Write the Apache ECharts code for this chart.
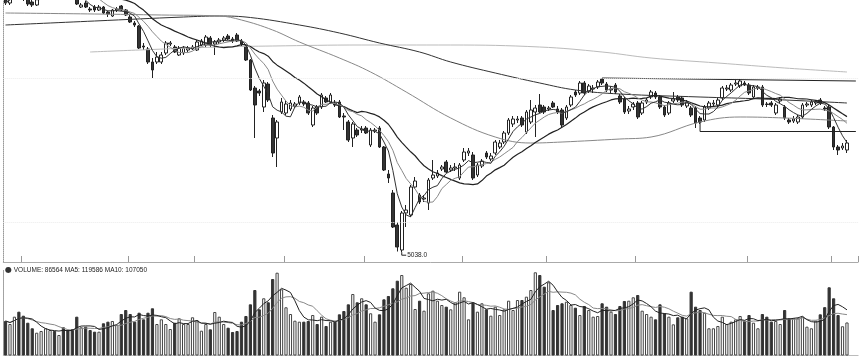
<!DOCTYPE html>
<html><head><meta charset="utf-8">
<script src="https://cdn.jsdelivr.net/npm/echarts@6/dist/echarts.min.js"></script>
<style>html,body{margin:0;padding:0;background:#fff}#c{width:859px;height:359px}</style>
</head><body><div id="c"></div>
<script>
// candles: [open, close, low, high]
const ohlc = [
[7580,7530,7510,7620],[7530,7600,7510,7640],[7600,7660,7590,7700],[7660,7620,7590,7700],[7620,7580,7550,7660],[7590,7520,7500,7620],[7540,7510,7490,7580],[7510,7580,7500,7610],[7580,7640,7560,7680],[7640,7700,7620,7740],
[7700,7760,7680,7800],[7760,7720,7680,7810],[7720,7780,7700,7840],[7780,7740,7700,7820],[7740,7660,7640,7780],[7660,7600,7580,7680],[7600,7520,7510,7620],[7490,7510,7480,7530],[7530,7490,7480,7550],[7470,7460,7440,7490],
[7490,7460,7440,7510],[7460,7490,7450,7510],[7490,7430,7420,7500],[7440,7420,7390,7450],[7400,7460,7390,7470],[7460,7470,7440,7490],[7500,7460,7450,7510],[7460,7410,7400,7470],[7390,7340,7330,7410],[7330,7310,7290,7350],
[7300,7080,7070,7310],[7100,7090,7060,7130],[7070,6940,6920,7090],[6940,6860,6780,6980],[6940,6990,6920,7040],[6940,7010,6920,7040],[7030,7130,7010,7150],[7120,7130,7100,7150],[7090,7040,7030,7110],[7010,7080,7000,7100],
[7030,7080,7010,7100],[7060,7080,7040,7100],[7070,7090,7060,7110],[7060,7140,7050,7160],[7110,7150,7100,7170],[7110,7190,7090,7210],[7180,7110,7090,7200],[7120,7140,7010,7160],[7140,7160,7120,7180],[7160,7180,7140,7200],
[7200,7170,7160,7220],[7170,7150,7130,7190],[7210,7150,7140,7230],[7150,7120,7100,7170],[7100,6960,6950,7120],[6960,6660,6650,6970],[6680,6510,6180,6700],[6650,6630,6600,6670],[6490,6730,6440,6760],[6720,6560,6540,6740],
[6380,6030,5990,6410],[6180,6340,5890,6360],[6440,6540,6420,6580],[6430,6520,6410,6560],[6470,6530,6450,6560],[6500,6520,6480,6540],[6530,6590,6510,6610],[6540,6520,6500,6560],[6530,6430,6410,6550],[6310,6480,6290,6500],
[6490,6430,6410,6510],[6490,6610,6470,6630],[6580,6540,6530,6600],[6540,6610,6520,6630],[6530,6510,6490,6560],[6540,6390,6380,6560],[6400,6390,6260,6430],[6340,6160,6140,6360],[6180,6320,6090,6340],[6260,6210,6190,6280],
[6260,6270,6230,6300],[6280,6230,6220,6300],[6110,6260,6090,6280],[6250,6260,6230,6280],[6280,6090,6080,6300],[6090,5860,5850,6100],[5820,5780,5730,5860],[5630,5290,5280,5660],[5310,5090,5045,5340],[5060,5430,5038,5450],
[5430,5460,5290,5510],[5410,5690,5390,5710],[5690,5750,5670,5790],[5610,5540,5520,5630],[5570,5580,5540,5610],[5530,5760,5460,5780],[5780,5810,5760,5960],[5800,5830,5780,5860],[5870,5890,5850,5910],[5940,5840,5830,5960],
[5860,5880,5840,5910],[5880,5890,5850,5930],[5780,5910,5760,5930],[5960,6040,5940,6080],[6030,6050,6000,6080],[6010,5780,5760,6040],[5810,5910,5790,5930],[5900,5950,5880,5970],[6030,5990,5970,6050],[5970,6000,5950,6030],
[6030,6140,6010,6160],[6090,6130,6070,6160],[6140,6230,6120,6250],[6230,6360,6210,6380],[6320,6370,6290,6400],[6360,6370,6330,6400],[6380,6310,6290,6400],[6240,6440,6220,6460],[6340,6460,6320,6560],[6440,6480,6190,6510],
[6510,6440,6430,6620],[6490,6440,6420,6510],[6470,6480,6450,6500],[6530,6490,6480,6550],[6470,6440,6420,6500],[6460,6310,6290,6480],[6380,6490,6360,6510],[6510,6590,6490,6610],[6640,6610,6590,6660],[6630,6730,6610,6750],
[6730,6630,6610,6750],[6650,6700,6630,6720],[6670,6680,6630,6710],[6690,6740,6670,6760],[6770,6730,6710,6780],[6720,6660,6640,6740],[6660,6670,6630,6700],[6710,6640,6620,6730],[6600,6540,6520,6620],[6570,6440,6420,6590],
[6450,6470,6420,6500],[6490,6520,6460,6540],[6530,6390,6370,6550],[6430,6530,6410,6550],[6540,6560,6520,6580],[6590,6640,6570,6660],[6630,6590,6570,6650],[6590,6490,6470,6610],[6490,6410,6390,6510],[6430,6530,6410,6550],
[6550,6570,6530,6640],[6590,6560,6540,6610],[6580,6510,6490,6600],[6500,6530,6480,6560],[6480,6410,6390,6500],[6480,6330,6280,6500],[6380,6340,6320,6400],[6360,6490,6340,6510],[6480,6530,6460,6550],[6520,6530,6500,6560],
[6510,6560,6490,6580],[6580,6680,6560,6700],[6670,6680,6650,6710],[6660,6710,6640,6730],[6720,6730,6700,6760],[6700,6750,6680,6770],[6730,6710,6700,6750],[6710,6630,6610,6730],[6590,6690,6570,6710],[6680,6690,6660,6710],
[6690,6510,6490,6710],[6520,6515,6490,6540],[6530,6510,6490,6550],[6430,6510,6410,6530],[6550,6570,6530,6590],[6490,6380,6360,6510],[6360,6340,6320,6380],[6350,6370,6330,6400],[6340,6390,6320,6410],[6390,6510,6370,6530],
[6510,6520,6490,6540],[6510,6540,6490,6560],[6530,6540,6510,6560],[6560,6530,6510,6580],[6480,6470,6450,6500],[6490,6290,6270,6510],[6290,6090,6060,6300],[6090,6060,6010,6110],[6080,6100,6060,6130],[6060,6130,6030,6160]
];
const volumes = [
90400,82500,101700,114800,104300,85900,71300,59700,64200,71300,
66800,64200,53700,73900,66800,69400,101700,73900,75500,66800,
62400,62400,84400,88600,90400,79900,108700,119200,108700,88600,
112100,94800,112100,123700,82500,94800,82500,69400,85900,97500,
82500,82500,100100,93000,65000,82500,68600,114000,101700,82500,
72800,61600,64200,88600,103500,134100,171600,121000,149900,139400,
200400,216900,173400,126300,108700,91200,88600,88600,90400,106100,
82500,101700,77300,88600,88600,107900,116600,134100,161100,139400,
149900,134100,110600,88600,107900,147200,155900,176100,196000,210900,
177600,187300,121800,143600,117400,163000,169800,143600,132300,127900,
121000,139400,167200,152500,94800,139400,114800,136800,121000,104300,
127900,106100,121000,143600,119200,145400,145400,154100,171600,218000,
210900,180300,191800,119200,132300,136800,141000,132300,125200,106100,
129700,119200,101700,103500,136800,127900,114800,108700,129700,142800,
143600,152500,158500,117400,108700,101700,94800,134100,110600,101700,
81700,100100,101700,97500,167200,127900,119200,112100,71300,71300,
77300,101700,82500,88600,94800,103500,91200,106100,85900,71300,
108700,101700,88600,90400,82500,119200,97500,97500,97500,101700,
75500,71300,91200,107900,126670,178700,149900,106100,76666,86564
];
// long moving averages: [candle index, value]
const ma60Points = [[0,7430],[20,7420],[35,7410],[48,7400],[53,7360],[60,7260],[66,7140],[75,6980],[82,6840],[90,6640],[100,6380],[110,6190],[118,6130],[125,6140],[138,6170],[145,6190],[156,6340],[165,6390],[175,6380],[189,6350]];
const ma120Points = [[0,7310],[20,7350],[40,7390],[48,7400],[55,7385],[66,7310],[75,7230],[84,7130],[93,7040],[100,6940],[110,6830],[120,6730],[128,6660],[138,6620],[156,6590],[170,6570],[189,6530]];
const ma250Points = [[19,7040],[30,7060],[48,7090],[60,7100],[80,7110],[100,7110],[120,7090],[134,7040],[145,6980],[160,6930],[175,6880],[189,6840]];
const boxTop = [[134,6740],[134,6780],[191,6750]];
const boxBottom = [[156,6340],[156,6245],[191,6245]];
const gridLevels = [6780, 5340];
const monthStarts = [4, 28, 43, 63, 81, 103, 122, 142, 167, 186];
const extraSlots = 2;
const categories = Array.from({length: ohlc.length + extraSlots}, (_, i) => String(i));

function movingAvg(vals, n) {
  return vals.map((_, i) => {
    const s = Math.max(0, i - n + 1);
    let sum = 0;
    for (let k = s; k <= i; k++) sum += vals[k];
    return +(sum / (i - s + 1)).toFixed(2);
  });
}
const closes = ohlc.map(d => d[1]);
const ma5 = movingAvg(closes, 5), ma10 = movingAvg(closes, 10), ma20 = movingAvg(closes, 20);
const vma5 = movingAvg(volumes, 5), vma10 = movingAvg(volumes, 10);
const n = volumes.length;
const lastVol = volumes[n - 1];
const lastVma5 = Math.round(volumes.slice(n - 5).reduce((a, b) => a + b, 0) / 5);
const lastVma10 = Math.round(volumes.slice(n - 10).reduce((a, b) => a + b, 0) / 10);
let lowIdx = 0;
ohlc.forEach((d, i) => { if (d[2] < ohlc[lowIdx][2]) lowIdx = i; });
const lowVal = ohlc[lowIdx][2];
const lowLeader = [[lowIdx, lowVal], [lowIdx, lowVal - 30], [lowIdx + 1, lowVal - 30]];

const volData = volumes.map((v, i) => {
  const up = ohlc[i][1] >= ohlc[i][0];
  return { value: v, itemStyle: up ? { color: '#fff', borderColor: '#444', borderWidth: 1 } : { color: '#333', borderColor: '#333', borderWidth: 1 } };
});

const FONT = 'Liberation Sans';
const chart = echarts.init(document.getElementById('c'), null, { renderer: 'canvas' });
const lineBase = { type: 'line', showSymbol: false, symbol: 'none', silent: true, animation: false };
chart.setOption({
  animation: false,
  backgroundColor: '#fff',
  title: {
    left: 0, top: 261,
    text: '{d|●} VOLUME: ' + lastVol + ' MA5: ' + lastVma5 + ' MA10: ' + lastVma10,
    textStyle: { fontFamily: FONT, fontSize: 6.5, color: '#222', fontWeight: 'normal',
      rich: { d: { fontSize: 8, color: '#333', fontFamily: 'DejaVu Sans' } } }
  },
  grid: [
    { left: 3.3, right: 0.9, top: 0, height: 262 },
    { left: 3.3, right: 0.9, top: 270, height: 85.5 }
  ],
  xAxis: [
    { type: 'category', gridIndex: 0, data: categories, boundaryGap: true,
      axisLine: { show: true, lineStyle: { color: '#aaa', width: 1 } },
      axisTick: { show: true, inside: true, length: 6, interval: (i) => monthStarts.includes(i), lineStyle: { color: '#999' } },
      axisLabel: { show: false }, splitLine: { show: false } },
    { type: 'category', gridIndex: 1, data: categories, boundaryGap: true,
      axisLine: { show: true, lineStyle: { color: '#bbb', width: 1 } },
      axisTick: { show: false }, axisLabel: { show: false }, splitLine: { show: false } }
  ],
  yAxis: [
    { type: 'value', gridIndex: 0, min: 4940, max: 7560, scale: true,
      axisLine: { show: true, lineStyle: { color: '#999', type: 'dotted' } },
      axisTick: { show: false }, axisLabel: { show: false }, splitLine: { show: false } },
    { type: 'value', gridIndex: 1, min: 0, max: 224000,
      axisLine: { show: true, lineStyle: { color: '#999', type: 'dotted' } },
      axisTick: { show: false }, axisLabel: { show: false }, splitLine: { show: false } }
  ],
  series: [
    Object.assign({}, lineBase, { data: ma250Points, smooth: 0.4, lineStyle: { color: '#bbb', width: 1 } }),
    Object.assign({}, lineBase, { data: ma120Points, smooth: 0.4, lineStyle: { color: '#333', width: 1 } }),
    Object.assign({}, lineBase, { data: ma60Points, smooth: 0.4, lineStyle: { color: '#888', width: 1 } }),
    Object.assign({}, lineBase, { data: ma20, lineStyle: { color: '#222', width: 1.2 } }),
    Object.assign({}, lineBase, { data: ma10, lineStyle: { color: '#888', width: 1 } }),
    Object.assign({}, lineBase, { data: ma5, lineStyle: { color: '#333', width: 1 } }),
    {
      type: 'candlestick', data: ohlc, barWidth: 3.2, silent: true, animation: false,
      itemStyle: { color: '#fff', color0: '#333', borderColor: '#222', borderColor0: '#222', borderWidth: 1 },
      markLine: { symbol: 'none', silent: true, animation: false, label: { show: false },
        lineStyle: { color: '#ebebeb', type: 'dotted', width: 1 },
        data: gridLevels.map(v => ({ yAxis: v })) }
    },
    Object.assign({}, lineBase, { data: boxTop, lineStyle: { color: '#222', width: 1 } }),
    Object.assign({}, lineBase, { data: boxBottom, lineStyle: { color: '#222', width: 1 } }),
    Object.assign({}, lineBase, { data: lowLeader, lineStyle: { color: '#222', width: 1 },
      markPoint: { symbol: 'circle', symbolSize: 0, silent: true, animation: false,
        label: { show: true, position: 'right', distance: 1, fontFamily: FONT, fontSize: 6.5, color: '#222', formatter: lowVal.toFixed(1) },
        data: [{ coord: lowLeader[2], value: lowVal }] } }),
    { type: 'bar', xAxisIndex: 1, yAxisIndex: 1, data: volData, barWidth: 3.2, silent: true, animation: false },
    Object.assign({}, lineBase, { xAxisIndex: 1, yAxisIndex: 1, data: vma10, lineStyle: { color: '#888', width: 1 } }),
    Object.assign({}, lineBase, { xAxisIndex: 1, yAxisIndex: 1, data: vma5, lineStyle: { color: '#222', width: 1 } })
  ]
});
</script></body></html>
